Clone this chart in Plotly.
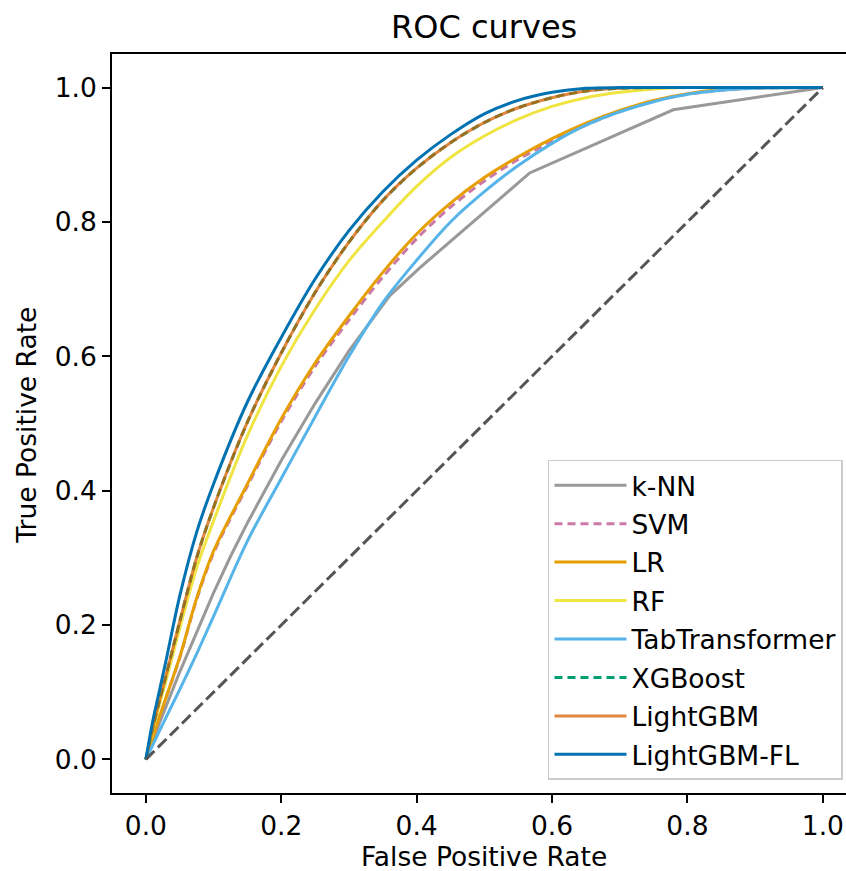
import plotly.graph_objects as go

# ---- data ----
fpr_grid = [0, 0.01, 0.02, 0.03, 0.05, 0.075, 0.1, 0.15, 0.2, 0.25, 0.3, 0.35,
            0.4, 0.45, 0.5, 0.55, 0.6, 0.65, 0.7, 0.75, 0.8, 0.85, 0.9, 1.0]

knn_fpr = [0, 0.02, 0.05, 0.075, 0.1, 0.125, 0.15, 0.2, 0.25, 0.3, 0.36, 0.405, 0.567, 0.779, 1.0]
knn_tpr = [0, 0.054, 0.13, 0.19, 0.248, 0.302, 0.352, 0.445, 0.53, 0.608, 0.69, 0.732, 0.873, 0.967, 1.0]

svm_tpr = [0, 0.031, 0.062, 0.092, 0.151, 0.238, 0.307, 0.407, 0.503, 0.585, 0.654, 0.718,
           0.775, 0.822, 0.861, 0.893, 0.92, 0.944, 0.964, 0.98, 0.99, 0.996, 0.999, 1.0]
lr_tpr = [0, 0.032, 0.063, 0.093, 0.152, 0.24, 0.31, 0.41, 0.507, 0.59, 0.66, 0.725,
          0.782, 0.828, 0.866, 0.897, 0.924, 0.947, 0.966, 0.981, 0.991, 0.997, 0.9995, 1.0]
rf_tpr = [0, 0.043, 0.082, 0.118, 0.195, 0.285, 0.355, 0.482, 0.585, 0.67, 0.742, 0.80,
          0.853, 0.896, 0.928, 0.953, 0.972, 0.985, 0.993, 0.998, 1.0, 1.0, 1.0, 1.0]
tab_tpr = [0, 0.021, 0.042, 0.063, 0.104, 0.157, 0.213, 0.325, 0.418, 0.51, 0.60, 0.68,
           0.743, 0.80, 0.845, 0.884, 0.917, 0.944, 0.964, 0.979, 0.99, 0.996, 0.999, 1.0]
xgb_tpr = [0, 0.046, 0.087, 0.126, 0.205, 0.3, 0.375, 0.502, 0.605, 0.695, 0.77, 0.832,
           0.88, 0.918, 0.948, 0.97, 0.985, 0.995, 0.999, 1.0, 1.0, 1.0, 1.0, 1.0]
lgbm_tpr = xgb_tpr
lgbmfl_tpr = [0, 0.056, 0.102, 0.148, 0.243, 0.338, 0.41, 0.532, 0.628, 0.715, 0.787, 0.845,
              0.892, 0.93, 0.961, 0.981, 0.993, 0.999, 1.0, 1.0, 1.0, 1.0, 1.0, 1.0]

diag = [0, 1]

names = ["k-NN", "SVM", "LR", "RF", "TabTransformer", "XGBoost", "LightGBM", "LightGBM-FL"]
colors = ["#999999", "#CC79A7", "#E69F00", "#F0E442", "#56B4E9", "#009E73", "#D55E00", "#0072B2"]
tick_vals = [0, 0.2, 0.4, 0.6, 0.8, 1.0]
tick_text = ["0.0", "0.2", "0.4", "0.6", "0.8", "1.0"]

fig = go.Figure()

series = [
    (knn_fpr, knn_tpr, "solid", "linear", 1.0),
    (fpr_grid, svm_tpr, "8px,5px", "spline", 1.0),
    (fpr_grid, lr_tpr, "solid", "spline", 1.0),
    (fpr_grid, rf_tpr, "solid", "spline", 1.0),
    (fpr_grid, tab_tpr, "solid", "spline", 1.0),
    (fpr_grid, xgb_tpr, "8px,5px", "spline", 1.0),
    (fpr_grid, lgbm_tpr, "solid", "spline", 0.75),
    (fpr_grid, lgbmfl_tpr, "solid", "spline", 1.0),
]

for i, ((xs, ys, dash, shape, op), name, col) in enumerate(zip(series, names, colors)):
    line = dict(color=col, width=3, dash=dash, shape=shape)
    if shape == "spline":
        line["smoothing"] = 0.9
    fig.add_trace(go.Scatter(x=xs, y=ys, mode="lines", name=name, line=line,
                             opacity=op, legendgroup=f"g{i}"))

fig.add_trace(go.Scatter(x=diag, y=diag, mode="lines", showlegend=False,
                         line=dict(color="#555555", width=3, dash="12px,5px")))

font = "DejaVu Sans, Liberation Sans, sans-serif"
FS = 26.5
fig.update_layout(
    width=846, height=871,
    margin=dict(l=112, r=0, t=54, b=78, autoexpand=False),
    paper_bgcolor="white", plot_bgcolor="white",
    font=dict(family=font, size=FS, color="black"),
    legend=dict(x=0.9959, y=0.0176, xanchor="right", yanchor="bottom",
                bgcolor="rgba(255,255,255,0.8)", bordercolor="#cccccc", borderwidth=1.5,
                font=dict(size=FS, family=font, color="black"),
                itemwidth=72, traceorder="grouped", tracegroupgap=1),
    showlegend=True,
    annotations=[
        dict(text="ROC curves", x=0.5068, y=1, xref="paper", yref="paper",
             xanchor="center", yanchor="middle", yshift=27, showarrow=False,
             font=dict(size=32, family=font, color="black")),
        dict(text="False Positive Rate", x=0.5068, y=0, xref="paper", yref="paper",
             xanchor="center", yanchor="middle", yshift=-63, showarrow=False,
             font=dict(size=FS, family=font, color="black")),
        dict(text="True Positive Rate", x=0, y=0.497, xref="paper", yref="paper",
             xanchor="center", yanchor="middle", xshift=-85, textangle=-90, showarrow=False,
             font=dict(size=FS, family=font, color="black")),
    ],
)
fig.update_xaxes(range=[-0.05, 1.0342], tickvals=tick_vals, ticktext=tick_text,
                 ticks="outside", ticklen=8, tickwidth=1.6, tickcolor="black",
                 showline=True, linecolor="black", linewidth=1.8, mirror=True,
                 showgrid=False, zeroline=False, automargin=False)
fig.update_yaxes(range=[-0.05, 1.05], tickvals=tick_vals, ticktext=tick_text,
                 ticks="outside", ticklen=8, tickwidth=1.6, tickcolor="black",
                 showline=True, linecolor="black", linewidth=1.8, mirror=False,
                 showgrid=False, zeroline=False, automargin=False)

fig.write_html("out.html", config={"displayModeBar": False},
               post_script="document.body.style.margin='0px';document.body.style.overflow='hidden';")
